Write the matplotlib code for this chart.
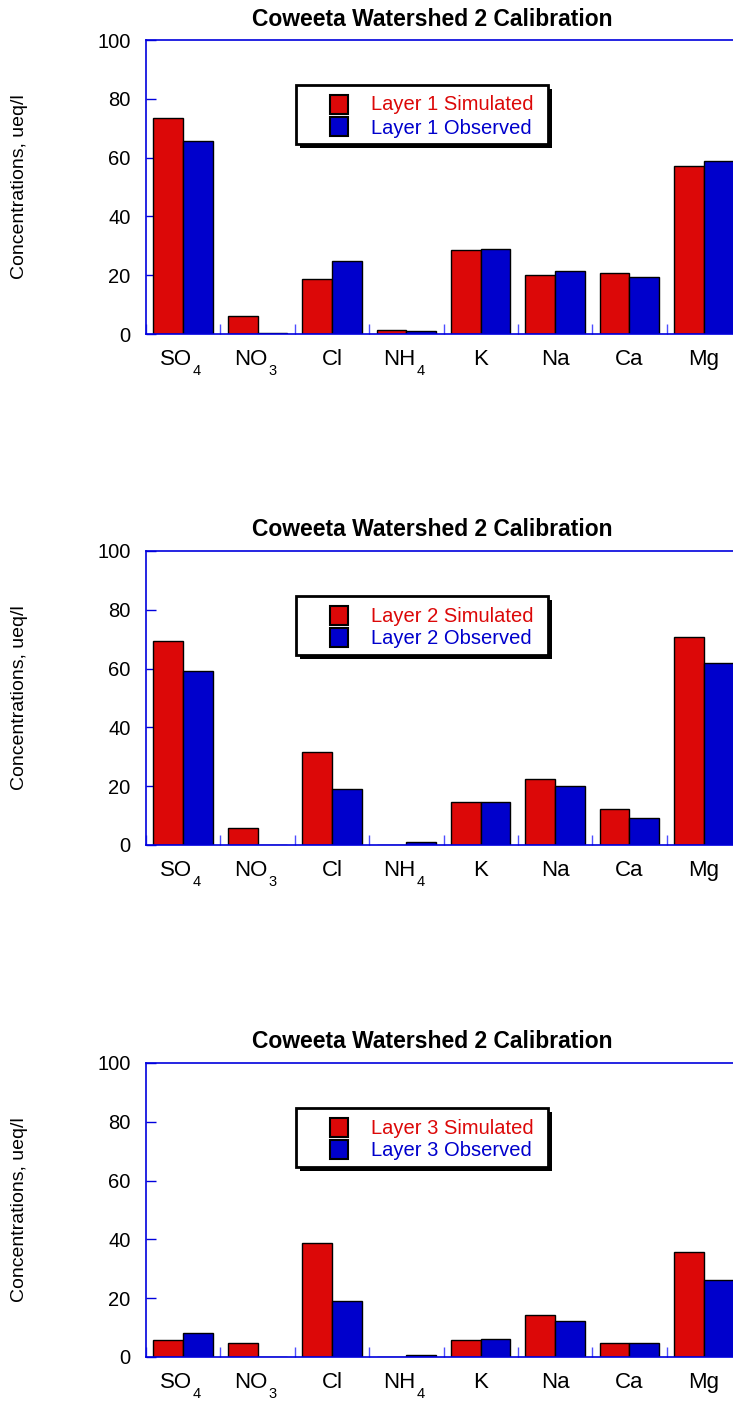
import numpy as np
import matplotlib
matplotlib.use("Agg")
import matplotlib.pyplot as plt
from matplotlib.patches import Rectangle

plt.rcParams["font.family"] = ["Liberation Sans", "DejaVu Sans"]

# ---- data ----
ions = ["SO", "NO", "Cl", "NH", "K", "Na", "Ca", "Mg"]
ion_subs = ["4", "3", "", "4", "", "", "", ""]

layer1_sim = [73.5, 6.1, 18.7, 1.4, 28.7, 20.2, 20.7, 57.0]
layer1_obs = [65.6, 0.3, 24.9, 1.0, 28.9, 21.4, 19.5, 58.8]
layer2_sim = [69.4, 5.8, 31.6, 0.0, 14.6, 22.4, 12.2, 70.7]
layer2_obs = [59.2, 0.0, 19.0, 1.0, 14.6, 20.1, 9.2, 61.9]
layer3_sim = [5.9, 4.9, 38.7, 0.0, 5.9, 14.4, 4.6, 35.6]
layer3_obs = [8.1, 0.0, 19.0, 0.7, 6.1, 12.1, 4.6, 26.2]

panels = [
    ("Layer 1", layer1_sim, layer1_obs),
    ("Layer 2", layer2_sim, layer2_obs),
    ("Layer 3", layer3_sim, layer3_obs),
]

RED = "#DC0808"
BLUE = "#0000CC"
SPINE = "#0000DD"

W, H = 733, 1402
fig = plt.figure(figsize=(W / 100, H / 100), dpi=100)

ax_left, ax_right = 146, 741
ax_tops = [40, 551, 1063]
ax_h = 294
ax_w = ax_right - ax_left

x = np.arange(len(ions)) + 0.5

for (layer, sim, obs), top in zip(panels, ax_tops):
    ax = fig.add_axes([ax_left / W, 1 - (top + ax_h) / H, ax_w / W, ax_h / H])

    ax.bar(x - 0.2, sim, width=0.4, color=RED, edgecolor="black", linewidth=1.0, zorder=3)
    ax.bar(x + 0.2, obs, width=0.4, color=BLUE, edgecolor="black", linewidth=1.0, zorder=3)

    ax.set_xlim(0, len(ions))
    ax.set_ylim(0, 100)
    ax.set_yticks(np.arange(0, 101, 20))
    ax.tick_params(axis="y", direction="in", length=7, width=1, color=SPINE,
                   labelsize=14.5, pad=11)
    ax.set_xticks(np.arange(0, len(ions) + 1), minor=True)
    ax.set_xticks([])
    ax.tick_params(axis="x", which="minor", direction="in", length=7, width=1,
                   color="#4D4DFF")

    for side in ["left", "top", "bottom"]:
        ax.spines[side].set_color(SPINE)
        ax.spines[side].set_linewidth(1.2)
        ax.spines[side].set_zorder(4)
    ax.spines["right"].set_visible(False)

    # category labels with subscripts
    for xi, name, sub in zip(x, ions, ion_subs):
        shift = -5 if sub else 0
        t = ax.annotate(name, xy=(xi, 0), xycoords=("data", "axes fraction"),
                        xytext=(shift, -10.5), textcoords="offset points",
                        ha="center", va="top", fontsize=16)
        if sub:
            ax.annotate(sub, xy=(1, 0), xycoords=t, xytext=(0.5, 4),
                        textcoords="offset points", ha="left", va="top",
                        fontsize=10.5)

    # title
    ax.text((432 - ax_left) / ax_w, 1 + 21 / ax_h, "Coweeta Watershed 2 Calibration",
            transform=ax.transAxes, ha="center", va="center",
            fontsize=16.5, fontweight="bold")

    # y label
    fig.text(20 / W, 1 - (top + ax_h / 2) / H, "Concentrations, ueq/l",
             rotation=90, ha="center", va="center", fontsize=14)

    # legend box with drop shadow
    def ax_xy(px, py):
        return (px - ax_left) / ax_w, 1 - py / ax_h

    bx0, by0 = ax_xy(296, 45)
    bx1, by1 = ax_xy(548, 104)
    sx, sy = 4 / ax_w, 4 / ax_h
    ax.add_patch(Rectangle((bx0 + sx, by1 - sy), bx1 - bx0, by0 - by1,
                           transform=ax.transAxes, facecolor="black",
                           edgecolor="none", zorder=5))
    ax.add_patch(Rectangle((bx0, by1), bx1 - bx0, by0 - by1,
                           transform=ax.transAxes, facecolor="white",
                           edgecolor="black", linewidth=2, zorder=6))

    for label, color, sq_top, txt_y in [(f"{layer} Simulated", RED, 55, 65),
                                         (f"{layer} Observed", BLUE, 77, 88)]:
        qx0, qy0 = ax_xy(330, sq_top)
        qx1, qy1 = ax_xy(348, sq_top + 19)
        ax.add_patch(Rectangle((qx0, qy1), qx1 - qx0, qy0 - qy1,
                               transform=ax.transAxes, facecolor=color,
                               edgecolor="black", linewidth=1.5, zorder=7))
        tx, ty = ax_xy(371, txt_y)
        ax.text(tx, ty, label, transform=ax.transAxes, color=color,
                fontsize=14.5, ha="left", va="center", zorder=8)

fig.savefig("out.png", dpi=100)
